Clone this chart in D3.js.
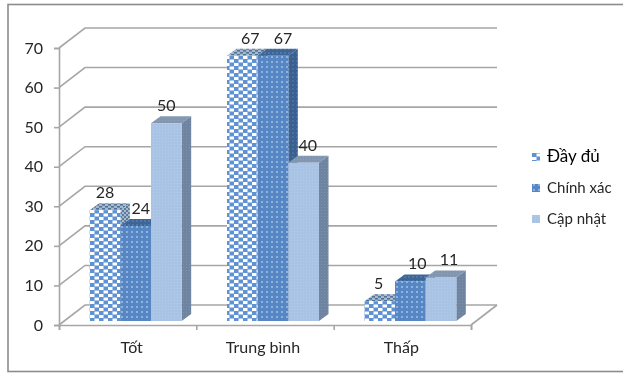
<!DOCTYPE html>
<html>
<head>
<meta charset="utf-8">
<script src="https://cdn.jsdelivr.net/npm/d3@7"></script>
<style>
  html, body { margin: 0; padding: 0; background: #fff; }
  text { font-family: Lato, "Noto Sans", sans-serif; fill: #262626; }
</style>
</head>
<body>
<div id="chart"></div>
<script>
const categories = ["Tốt", "Trung bình", "Thấp"];
const seriesNames = ["Đầy đủ", "Chính xác", "Cập nhật"];
const dayDu = [28, 67, 5];
const chinhXac = [24, 67, 10];
const capNhat = [50, 40, 11];
const yTicks = [0, 10, 20, 30, 40, 50, 60, 70];

const seriesValues = [dayDu, chinhXac, capNhat];

const width = 623;
const height = 373;

// front plane of the 3d box, back wall is shifted by wallDx / wallDy
const wallDx = 26;
const wallDy = -20;
const barDx = 9.5;
const barDy = -7;

const y = d3.scaleLinear().domain([0, 70]).range([325, 48]);
const x0 = d3.scaleBand().domain(categories).range([59, 471]);
const x1 = d3.scaleBand().domain(d3.range(3)).range([0, 92]);
const groupLeft = c => x0(c) + (x0.bandwidth() - 92) / 2 + 8;
const barBase = 321;
const barTop = v => barBase - (y(0) - y(v));

const svg = d3.select("#chart").append("svg")
  .attr("width", width)
  .attr("height", height)
  .style("display", "block");

const defs = svg.append("defs");

// the reference is a resampled screenshot, so everything is a bit soft
defs.append("filter")
  .attr("id", "soft")
  .attr("filterUnits", "userSpaceOnUse")
  .attr("x", 0).attr("y", 0)
  .attr("width", width).attr("height", height)
  .append("feGaussianBlur")
  .attr("stdDeviation", 0.4);

function pattern(id, bg, fg, w, h, cells) {
  const p = defs.append("pattern")
    .attr("id", id)
    .attr("width", w)
    .attr("height", h)
    .attr("patternUnits", "userSpaceOnUse");
  p.append("rect").attr("width", w).attr("height", h).attr("fill", bg);
  cells.forEach(c => p.append("rect")
    .attr("x", c[0]).attr("y", c[1])
    .attr("width", c[2]).attr("height", c[3])
    .attr("fill", fg));
}

// checker weave for the first series, dotted weaves for the others
pattern("front0", "#5f92d3", "#ffffff", 9, 7, [[0, 0, 4.5, 3], [4.5, 3.5, 4.5, 3]]);
pattern("top0", "#a7b8cd", "#4f7299", 6, 4, [[0, 0, 3, 1.6], [3, 2, 3, 1.6]]);
pattern("side0", "#a9bad0", "#5a7a9f", 4, 4, [[0, 0, 2, 2], [2, 2, 2, 2]]);
pattern("front1", "#5687c4", "#8fb2de", 5, 5, [[1, 1, 2, 2]]);
pattern("top1", "#3d6596", "#4f78a8", 4, 4, [[0, 0, 2, 2]]);
pattern("side1", "#3a608f", "#44709f", 4, 4, [[0, 0, 2, 2]]);
pattern("front2", "#a9c3e4", "#b5cce8", 3, 3, [[0, 0, 1, 1]]);
pattern("top2", "#8296b0", "#8ea1b9", 3, 3, [[0, 0, 1, 1]]);
pattern("side2", "#6e84a0", "#7b90aa", 3, 3, [[0, 0, 1, 1]]);

const root = svg.append("g").attr("filter", "url(#soft)");

// outer frame, the right edge is cropped off in the reference
root.append("rect")
  .attr("x", 8).attr("y", 4.5)
  .attr("width", 640).attr("height", 367)
  .attr("fill", "#fff")
  .attr("stroke", "#8c8c8c")
  .attr("stroke-width", 1.6);

const gridColor = "#a6a6a6";
const [frontLeft, frontRight] = x0.range();

// walls: back gridlines and the slanted part on the left side
const grid = root.append("g")
  .attr("fill", "none")
  .attr("stroke", gridColor)
  .attr("stroke-width", 1.6);

grid.selectAll("path")
  .data(yTicks)
  .enter().append("path")
  .attr("d", d => d3.line()([
    [frontLeft, y(d)],
    [frontLeft + wallDx, y(d) + wallDy],
    [frontRight + wallDx, y(d) + wallDy]
  ]));

// floor edge on the right
grid.append("path")
  .attr("d", d3.line()([
    [frontRight, y(0)],
    [frontRight + wallDx, y(0) + wallDy]
  ]));

const yAxis = root.append("g")
  .attr("transform", `translate(${frontLeft},0)`)
  .call(d3.axisLeft(y).tickValues(yTicks).tickSize(5).tickPadding(11));

const xTickScale = d3.scaleLinear().domain([0, 3]).range([frontLeft, frontRight]);
const xAxis = root.append("g")
  .attr("transform", `translate(0,${y(0)})`)
  .call(d3.axisBottom(xTickScale).tickValues([0, 1, 2, 3]).tickSize(5).tickFormat(""));

[yAxis, xAxis].forEach(a => {
  a.select(".domain").attr("stroke", gridColor).attr("stroke-width", 1.6);
  a.selectAll(".tick line").attr("stroke", gridColor).attr("stroke-width", 1.6);
});
yAxis.selectAll(".tick text")
  .attr("font-size", 16)
  .style("font-family", "Lato, 'Noto Sans', sans-serif");

const categoryNudge = [4, -2, -1];
root.append("g")
  .selectAll("text")
  .data(categories)
  .enter().append("text")
  .attr("x", (d, i) => x0(d) + x0.bandwidth() / 2 + categoryNudge[i])
  .attr("y", 353)
  .attr("text-anchor", "middle")
  .attr("font-size", 16)
  .text(d => d);

// flat list of bars, drawn left to right so later fronts cover earlier sides
const bars = categories.flatMap((c, ci) =>
  seriesValues.map((vals, si) => ({ c, ci, si, v: vals[ci] })));

const barG = root.append("g")
  .selectAll("g")
  .data(bars)
  .enter().append("g");

const bx = d => groupLeft(d.c) + x1(d.si);
const bw = x1.bandwidth();

barG.append("path")
  .attr("fill", d => `url(#top${d.si})`)
  .attr("d", d => {
    const l = bx(d), t = barTop(d.v);
    return d3.line()([[l, t], [l + barDx, t + barDy], [l + bw + barDx, t + barDy], [l + bw, t]]) + "Z";
  });

barG.append("path")
  .attr("fill", d => `url(#side${d.si})`)
  .attr("d", d => {
    const r = bx(d) + bw, t = barTop(d.v);
    return d3.line()([[r, t], [r + barDx, t + barDy], [r + barDx, barBase + barDy], [r, barBase]]) + "Z";
  });

barG.append("rect")
  .attr("x", bx)
  .attr("y", d => barTop(d.v))
  .attr("width", bw)
  .attr("height", d => barBase - barTop(d.v))
  .attr("fill", d => `url(#front${d.si})`);

// labels sit a little off the bar centre, as Excel placed them
const labelNudge = [[0, 5, 0], [8, 10, 4], [-1, 7, 8]];
root.append("g")
  .selectAll("text")
  .data(bars)
  .enter().append("text")
  .attr("x", d => bx(d) + bw / 2 + labelNudge[d.ci][d.si])
  .attr("y", d => barTop(d.v) - 12)
  .attr("text-anchor", "middle")
  .attr("font-size", 16)
  .text(d => d.v);

// legend
const legendY = d3.scalePoint().domain(seriesNames).range([157, 219]);
const legend = root.append("g")
  .selectAll("g")
  .data(seriesNames)
  .enter().append("g")
  .attr("transform", d => `translate(532,${legendY(d)})`);

legend.append("rect")
  .attr("y", -4)
  .attr("width", 8)
  .attr("height", 8)
  .attr("fill", (d, i) => `url(#front${i})`);

legend.append("text")
  .attr("x", 15)
  .attr("y", 5)
  .attr("font-size", (d, i) => i === 0 ? 17 : 15)
  .style("fill", (d, i) => i === 0 ? "#000" : "#262626")
  .text(d => d);
</script>
</body>
</html>
